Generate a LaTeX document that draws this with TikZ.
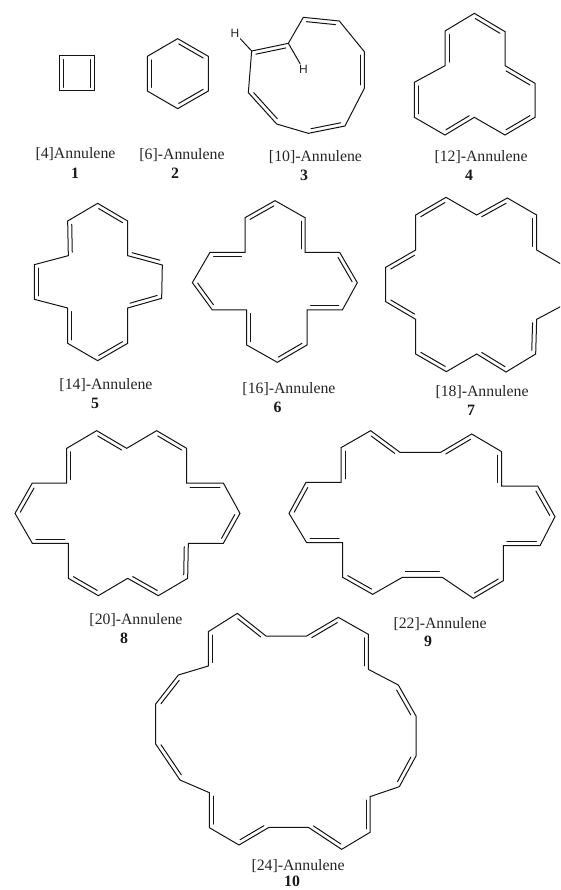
\documentclass[tikz,border=0pt]{standalone}
\usepackage{fontspec}
\setmainfont{Liberation Serif}
\newfontfamily\hfont{Liberation Sans}
\usetikzlibrary{calc}
\tikzset{
  bond/.style={line width=1pt,line join=miter,line cap=round,black!92},
  lab/.style={inner sep=0pt,font=\fontsize{15.8}{18}\selectfont,text=black!85},
  num/.style={inner sep=0pt,font=\fontsize{15.8}{18}\selectfont\bfseries,text=black!90},
  atom/.style={inner sep=1.5pt,font=\hfont\fontsize{12}{14}\selectfont,text=black!85}
}
\newcommand\mol[4]{%
\begin{scope}[shift={(#1,#2)},x=.33333pt,y=-.33333pt]
\foreach \px/\py [count=\i] in {#3} {\coordinate (a\i) at (\px,\py); \xdef\nn{\i}}
\draw[bond] (a1) \foreach \i in {2,...,\nn} {-- (a\i)} -- cycle;
\foreach \pa/\pb/\ang in {#4}
  \draw[bond] ($(a\pa)!3.5pt!(a\pb)!4pt!\ang:(a\pb)$) -- ($(a\pb)!3.5pt!(a\pa)!4pt!-\ang:(a\pa)$);
\end{scope}}
\begin{document}
\begin{tikzpicture}[x=1pt,y=-1pt]
\useasboundingbox (0,0) rectangle (560,890);
\fill[white] (0,0) rectangle (560,890);
\clip (0,0) rectangle (560,890);
% 1
\mol{0}{0}{178/168,283/168,283/273,178/273}{2/3/-90,4/1/-90}
% 2
\mol{0}{0}{533/116,625/169,625/273,533/326,442/273,442/169}{1/2/-90,3/4/-90,5/6/-90}
% 3
\mol{0}{0}{755/153,865/130,910/52,1018/63,1093/155,1093/265,1035/378,925/400,830/372,745/278}{1/2/-90,3/4/-90,5/6/-90,7/8/-90,9/10/-90}
\node[atom] (h1) at (235,33) {H};
\node[atom] (h2) at (303.5,69.5) {H};
\draw[bond] (a1) -- (h1);
\draw[bond] (a2) -- (h2);
% 4
\mol{280}{0}{583/40,675/95,675/197,765/250,765/352,675/405,583/352,495/405,403/352,403/247,495/197,495/93}{1/2/-90,3/4/-90,5/6/-90,7/8/-90,9/10/-90,11/12/-90}
% 5
\mol{0}{190}{293/40,383/93,383/197,487/225,485/325,383/354,383/460,293/512,203/460,203/354,103/328,103/224,205/197,203/93}{1/2/-90,3/4/90,5/6/-90,7/8/-90,9/10/-90,11/12/-90,13/14/-90}
% 6
\mol{185}{190}{270/32,360/83,360/187,464/187,517/278,472/360,366/360,366/465,277/517,185/465,185/360,82/360,22/278,75/187,180/187,180/83}{16/1/-90,2/3/-90,4/5/-90,6/7/-90,8/9/-90,10/11/-90,12/13/-90,14/15/-90}
% 7
\mol{370}{190}{228/22,320/75,412/24,500/75,500/180,590/232,590/340,500/388,497/492,408/546,320/492,229/545,137/492,137/388,47/335,47/232,137/180,137/75}{18/1/-90,2/3/-90,4/5/-90,6/7/-90,8/9/-90,10/11/-90,12/13/-90,14/15/-90,16/17/-90}
% 8
\mol{0}{425}{290/17,380/70,470/17,560/70,560/174,670/174,720/265,670/355,565/355,563/460,475/512,383/460,295/512,205/460,205/355,97/355,45/265,97/174,200/174,200/70}{20/19/90,1/2/-90,3/4/-90,5/6/-90,7/8/-90,9/10/-90,11/12/-90,13/14/-90,15/16/-90,17/18/-90}
% 9
\mol{280}{425}{272/17,360/82,482/82,575/27,665/80,665/183,773/183,825/275,780/362,670/362,670/467,580/520,487/457,367/457,278/508,188/457,188/353,80/353,27/265,78/172,183/172,183/68}{21/22/-90,1/2/-90,3/4/-90,5/6/-90,7/8/-90,9/10/-90,11/12/-90,15/16/-90,17/18/-90,19/20/-90}
\draw[bond] ($(a13)!3pt!(a14)!6.3pt!-90:(a14)$) -- ($(a14)!3pt!(a13)!6.3pt!90:(a13)$);
% 10
\mol{140}{600}{292/40,378/108,500/108,595/52,685/103,685/208,775/255,828/348,828/468,778/560,690/590,690/697,605/748,505/682,387/682,297/735,208/683,208/578,120/540,47/432,47/312,115/225,205/198,205/95}{23/24/-90,1/2/-90,3/4/-90,5/6/-90,7/8/-90,9/10/-90,11/12/-90,13/14/-90,15/16/-90,17/18/-90,19/20/-90,21/22/-90}
% labels
\node[lab] (t1) at (75.5,154) {[4]Annulene};
\node[num] (n1) at (75,173) {1};
\node[lab] (t2) at (182,155) {[6]-Annulene};
\node[num] (n2) at (175,173) {2};
\node[lab] (t3) at (315.5,157) {[10]-Annulene};
\node[num] (n3) at (304,175) {3};
\node[lab] (t4) at (481,157) {[12]-Annulene};
\node[num] (n4) at (469,175) {4};
\node[lab] (t5) at (106,385) {[14]-Annulene};
\node[num] (n5) at (95,403) {5};
\node[lab] (t6) at (289,389) {[16]-Annulene};
\node[num] (n6) at (277.5,407) {6};
\node[lab] (t7) at (482,392) {[18]-Annulene};
\node[num] (n7) at (471,410) {7};
\node[lab] (t8) at (136,620) {[20]-Annulene};
\node[num] (n8) at (124,638) {8};
\node[lab] (t9) at (440,624) {[22]-Annulene};
\node[num] (n9) at (428,641) {9};
\node[lab] (t10) at (298,866) {[24]-Annulene};
\node[num] (n10) at (292,881.5) {10};
\end{tikzpicture}
\end{document}
